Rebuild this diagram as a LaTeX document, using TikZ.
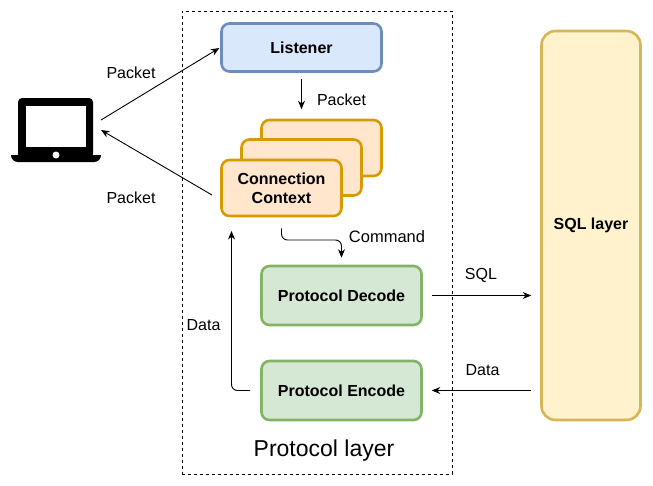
\documentclass[tikz,border=0pt]{standalone}
\usepackage{fontspec}
\setmainfont{Liberation Sans}
\usetikzlibrary{arrows.meta}
\definecolor{blueFill}{HTML}{DAE8FC}
\definecolor{blueLine}{HTML}{6C8EBF}
\definecolor{orangeFill}{HTML}{FFE6CC}
\definecolor{orangeLine}{HTML}{D79B00}
\definecolor{greenFill}{HTML}{D5E8D4}
\definecolor{greenLine}{HTML}{82B366}
\definecolor{yellowFill}{HTML}{FFF2CC}
\definecolor{yellowLine}{HTML}{D6B656}
\tikzset{
  block/.style={rounded corners=8pt, line width=2.6pt, align=center, inner sep=0pt,
    font=\fontsize{16}{19}\selectfont\bfseries},
  listenerbox/.style={block, draw=blueLine, fill=blueFill, minimum width=160pt, minimum height=48pt},
  contextbox/.style={block, draw=orangeLine, fill=orangeFill, minimum width=120pt, minimum height=56pt},
  protocolbox/.style={block, draw=greenLine, fill=greenFill, minimum width=160pt, minimum height=59pt},
  sqlbox/.style={block, draw=yellowLine, fill=yellowFill, minimum width=99pt, minimum height=389pt, rounded corners=14pt},
  flow/.style={-{Stealth[length=8.5pt,width=7pt]}, line width=0.9pt},
  lbl/.style={font=\fontsize{16}{19}\selectfont, inner sep=0pt}
}
\begin{document}
\begin{tikzpicture}[x=1pt, y=-1pt]
  \useasboundingbox (0,0) rectangle (653,485);
  % protocol layer frame
  \node[draw, dashed, line width=0.7pt, minimum width=270pt, minimum height=463pt, inner sep=0pt] (frame) at (317,242.5) {};
  \node[font=\fontsize{23}{27}\selectfont, inner sep=0pt] (frameLabel) at (324,451) {Protocol layer};
  % laptop
  \node[minimum width=90pt, minimum height=64pt, inner sep=0pt] (laptop) at (56,130) {};
  \fill[rounded corners=4pt] (18,158) -- (18,98) -- (93,98) -- (93,158) -- cycle;
  \fill[white] (26,106) rectangle (86,147);
  \fill (11,155) -- (101,155) .. controls (101,159) and (98,162) .. (94,162) -- (18,162) .. controls (14,162) and (11,159) .. (11,155) -- cycle;
  \fill[white] (56,155) circle (3.5pt);
  \coordinate (laptopOut) at (101,120);
  \coordinate (laptopIn) at (101,130);
  % boxes
  \node[listenerbox] (listener) at (301.5,47.5) {Listener};
  \node[contextbox] (ctxBack) at (321.5,148) {};
  \node[contextbox] (ctxMid) at (301.5,167.5) {};
  \node[contextbox] (ctxFront) at (281.5,188) {Connection\\Context};
  \node[protocolbox] (decode) at (341.5,295.5) {Protocol Decode};
  \node[protocolbox] (encode) at (341.5,390.5) {Protocol Encode};
  \node[sqlbox] (sql) at (591,225.5) {SQL layer};
  % free ends
  \coordinate (ctxOut) at (212,195);
  \coordinate (ctxIn) at (231.5,231);
  \coordinate (cmdBend) at (310,240);
  % connectors
  \draw[flow, shorten >=1pt] (laptopOut) -- (listener.west);
  \draw[flow] (ctxOut) -- (laptopIn);
  \draw[flow, shorten <=6pt, shorten >=29pt] (listener.south) -- (ctxMid.north);
  \draw[flow, rounded corners=6pt, shorten <=11pt, shorten >=7pt] (ctxFront.south) |- (cmdBend) -| (decode.north);
  \draw[flow, rounded corners=6pt, shorten <=10pt] (encode.west) -| (ctxIn);
  \draw[flow, shorten <=9pt, shorten >=9pt] (decode.east) -- (sql.west |- decode.east);
  \draw[flow, shorten <=9pt, shorten >=9pt] (sql.west |- encode.east) -- (encode.east);
  % labels
  \node[lbl] (lblPacketA) at (131,72.5) {Packet};
  \node[lbl] (lblPacketB) at (341.5,99.5) {Packet};
  \node[lbl] (lblPacketC) at (131,197.5) {Packet};
  \node[lbl, font=\fontsize{16.5}{19}\selectfont] (lblCommand) at (387,236.5) {Command};
  \node[lbl] (lblData) at (203.5,325.5) {Data};
  \node[lbl] (lblSql) at (481,275.5) {SQL};
  \node[lbl] (lblDataB) at (482.5,370.5) {Data};
\end{tikzpicture}
\end{document}
